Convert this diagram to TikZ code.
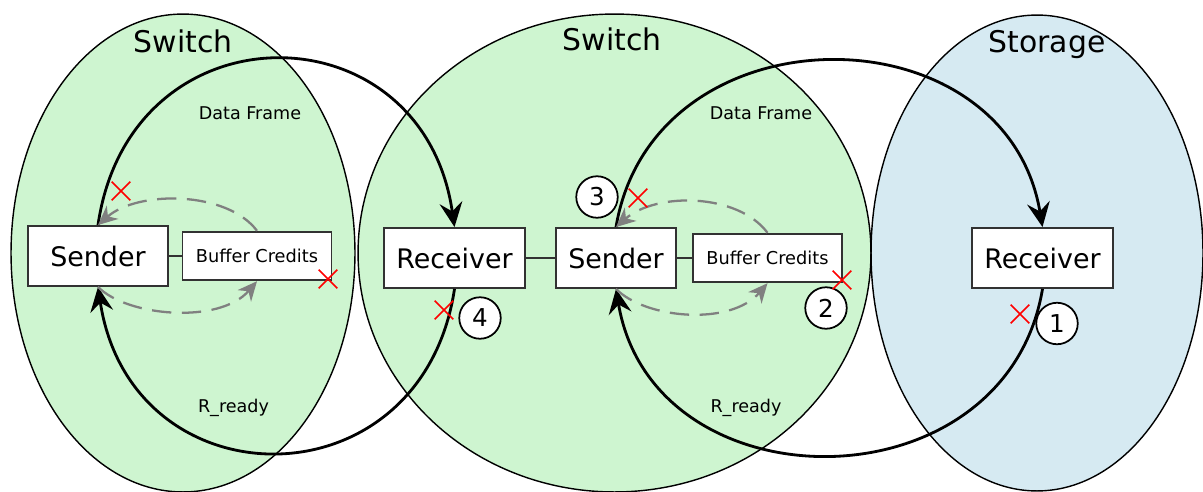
\documentclass[tikz,border=0pt]{standalone}
\usepackage{fontspec}
\setmainfont{DejaVu Sans}
\usepackage{tikz}
\usetikzlibrary{arrows.meta, shapes.misc, calc}
\definecolor{switchgreen}{RGB}{206,245,208}
\definecolor{storageblue}{RGB}{214,234,242}
\definecolor{boxline}{RGB}{50,50,50}
\tikzstyle{devname} = [font=\fontsize{17}{20}\selectfont]
\tikzstyle{msglabel} = [font=\fontsize{10}{12}\selectfont]
\tikzstyle{port} = [draw=boxline, line width=1.1pt, fill=white, minimum height=1.2cm, inner sep=0pt, font=\fontsize{15.3}{18}\selectfont]
\tikzstyle{credits} = [draw=boxline, line width=1.1pt, fill=white, minimum width=2.98cm, minimum height=0.97cm, inner sep=0pt, font=\fontsize{10.1}{12}\selectfont]
\tikzstyle{stepnum} = [circle, draw, line width=1pt, fill=white, minimum size=0.83cm, inner sep=0pt, font=\fontsize{14}{16}\selectfont]
\tikzstyle{lost} = [cross out, draw=red, line width=0.9pt, minimum size=0.34cm, inner sep=0pt]
\tikzstyle{flow} = [line width=1.6pt, -{Stealth[length=14pt,width=13pt,inset=5pt]}]
\tikzstyle{credit} = [gray, line width=1.3pt, dash pattern=on 11pt off 6pt, -{Stealth[length=11pt,width=10pt,inset=3.5pt]}]

\begin{document}
\begin{tikzpicture}[x=0.02cm, y=0.02cm]
\useasboundingbox (0,0) rectangle (1203,491);
% the three devices
\draw[fill=switchgreen, line width=0.8pt] (183,238) ellipse [x radius=3.44cm, y radius=4.78cm];
\draw[fill=switchgreen, line width=0.8pt] (614.5,238) ellipse [x radius=5.13cm, y radius=4.78cm];
\draw[fill=storageblue, line width=0.8pt] (1037,238) ellipse [x radius=3.32cm, y radius=4.76cm];
\node[devname] (sw1) at (183,450) {Switch};
\node[devname] (sw2) at (612,452) {Switch};
\node[devname] (stor) at (1047,446) {Storage};
\node[msglabel] (df1) at (250,377.5) {Data Frame};
\node[msglabel] (df2) at (761,377.5) {Data Frame};
\node[msglabel] (rr1) at (233.5,83) {R\_ready};
\node[msglabel] (rr2) at (746,83) {R\_ready};
% ports
\node[port, minimum width=2.8cm] (snd1) at (98,235) {Sender};
\node[credits] (buf1) at (257,235) {Buffer Credits};
\node[port, minimum width=2.82cm] (rcv2) at (454.5,233) {Receiver};
\node[port, minimum width=2.4cm] (snd2) at (616,233) {Sender};
\node[credits] (buf2) at (767.5,233) {Buffer Credits};
\node[port, minimum width=2.82cm] (rcv3) at (1042.5,233) {Receiver};
\draw[boxline, line width=0.8pt] (snd1) -- (buf1);
\draw[boxline, line width=0.8pt] (rcv2) -- (snd2);
\draw[boxline, line width=0.8pt] (snd2) -- (buf2);
% data frames and R_ready
\draw[flow] (snd1.north) .. controls +(32,222) and +(-32,222) .. (rcv2.north);
\draw[flow] (rcv2.south) .. controls +(-33,-219) and +(33,-219) .. (snd1.south);
\draw[flow] (snd2.north) .. controls +(37,221) and +(-37,221) .. (rcv3.north);
\draw[flow] (rcv3.south) .. controls +(-37,-221) and +(37,-221) .. (snd2.south);
% credit counting
\draw[credit] (buf1.north) .. controls +(-30,40) and +(40,35) .. (snd1.north);
\draw[credit] (snd1.south) .. controls +(30,-30) and +(-37,-43) .. (buf1.south);
\draw[credit] (buf2.north) .. controls +(-30,40) and +(40,35) .. (snd2.north);
\draw[credit] (snd2.south) .. controls +(30,-30) and +(-37,-43) .. (buf2.south);
% steps
\node[stepnum] (n1) at (1057,167.5) {1};
\node[stepnum] (n2) at (826,183) {2};
\node[stepnum] (n3) at (597,294) {3};
\node[stepnum] (n4) at (480,173) {4};
% failure points
\node[lost] (x1) at (121,300) {};
\node[lost] (x2) at (328,212) {};
\node[lost] (x3) at (444,181) {};
\node[lost] (x4) at (638,293) {};
\node[lost] (x5) at (842,211) {};
\node[lost] (x6) at (1020,177) {};
\end{tikzpicture}
\end{document}
